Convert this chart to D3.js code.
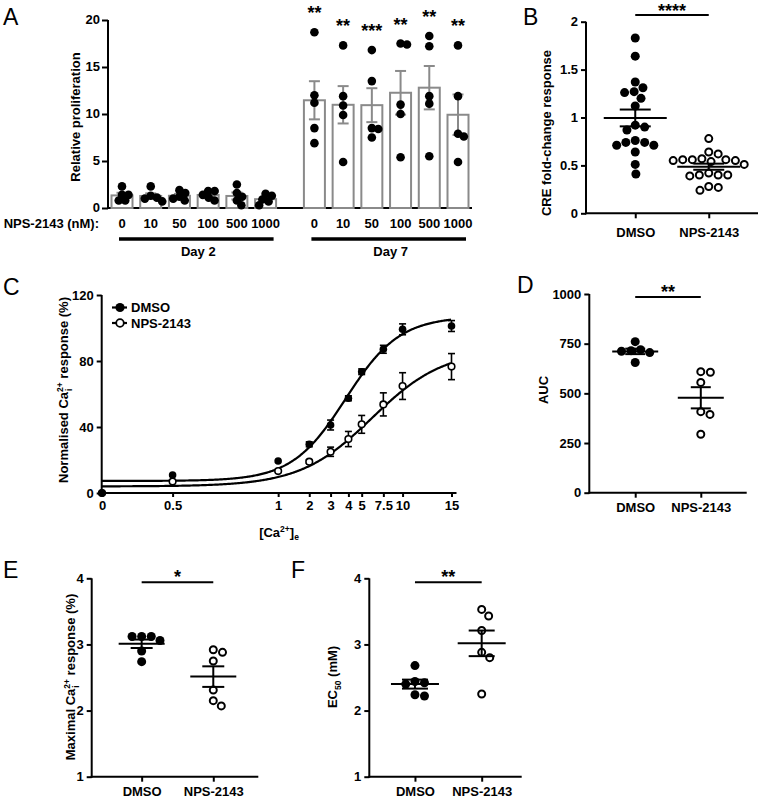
<!DOCTYPE html>
<html><head><meta charset="utf-8">
<script src="https://cdn.jsdelivr.net/npm/d3@7"></script>
<style>
body{margin:0;background:#fff;}
text{font-family:'Liberation Sans',Arial,Helvetica,sans-serif;}
</style></head><body><script>
// ================= DATA =================
// Panel A: relative proliferation, NPS-2143 concentrations
const concLabels = ["0","10","50","100","500","1000"];
const dayLabels = ["Day 2","Day 7"];
const day2Values = [
  [2.3,1.4,1.4,0.8,0.8],
  [2.3,1.3,1.1,1.0,0.7],
  [1.9,1.6,1.2,1.0,0.8],
  [1.8,1.8,1.4,1.1,0.8],
  [2.5,1.6,1.2,0.8,0.3],
  [1.5,1.3,0.9,0.7,0.3]
];
const day7Values = [
  [18.7,12.0,11.2,8.5,6.9],
  [17.3,11.9,10.9,9.9,4.9],
  [16.8,13.5,8.5,8.4,7.5],
  [17.4,17.5,11.0,10.0,5.4],
  [17.2,18.3,11.9,11.1,5.5],
  [17.3,11.9,7.9,7.6,4.9]
];
const day7Stars = ["**","**","***","**","**","**"];
const profTicks = [0,5,10,15,20];

// Panel B: CRE fold-change response
const groups = ["DMSO","NPS-2143"];
const creDmso = [1.83,1.64,1.31,1.26,1.20,1.27,1.37,1.12,0.92,0.87,0.90,0.76,0.74,0.71,0.71,0.74,0.64,0.51,0.41];
const creNps  = [0.78,0.64,0.62,0.57,0.56,0.55,0.54,0.55,0.56,0.56,0.51,0.40,0.40,0.39,0.40,0.42,0.28,0.24,0.27];
const creTicks = [0,0.5,1,1.5,2];
const creStars = "****";

// Panel C: normalised Ca2+i response vs [Ca2+]e
const caConc = [0,0.5,1,2,3,4,5,7.5,10,15];
const caDmso    = [0,10.9,19.4,29.5,41.2,57.4,73.5,87.1,99.2,101.2];
const caDmsoSem = [0,0,0,1.5,3.0,1.5,1.7,2.4,3.3,3.3];
const caNps     = [0,6.9,13.3,19.0,25.0,32.7,41.6,53.7,64.8,76.6];
const caNpsSem  = [0,0,0,1.0,2.8,4.6,5.4,7.0,8.1,7.9];
const caTicks = [0,40,80,120];
const caDmsoFit = {bottom:7.3, top:107, mid:3.85, slope:0.077};
const caNpsFit  = {bottom:4.0, top:87,  mid:6.2,  slope:0.103};

// Panel D: AUC
const aucDmso = [760,712,705,720,715,655];
const aucNps  = [609,606,555,408,394,294];
const aucTicks = [0,250,500,750,1000];

// Panel E: maximal Ca2+i response
const maxDmso = [3.12,3.12,3.12,3.06,2.90,2.74];
const maxNps  = [2.92,2.88,2.75,2.31,2.15,2.07];
// Panel F: EC50 (mM)
const ecDmso = [2.68,2.44,2.42,2.40,2.22,2.24];
const ecNps  = [3.53,3.43,3.21,2.88,2.80,2.25];
const unitTicks = [1,2,3,4];

// ================= HELPERS =================
const FF = "'Liberation Sans',Arial,Helvetica,sans-serif";
const FS = 13;
const svg = d3.select("body").append("svg").attr("width",762).attr("height",801).style("display","block");
const GREY = "#8a8a8a";
const mean = a => d3.mean(a);
const sem = a => d3.deviation(a)/Math.sqrt(a.length);

function styleAxis(g){
  g.select(".domain").remove();
  g.attr("font-family",FF).attr("font-size",FS).attr("font-weight","bold");
  g.selectAll(".tick line").attr("stroke","#000").attr("stroke-width",2);
  g.selectAll(".tick text").attr("fill","#000");
}
function line(g,x1,y1,x2,y2,w,c){
  return g.append("line").attr("x1",x1).attr("y1",y1).attr("x2",x2).attr("y2",y2)
    .attr("stroke",c||"#000").attr("stroke-width",w||2);
}
function btext(g,x,y,s,anchor){
  return g.append("text").attr("x",x).attr("y",y).attr("text-anchor",anchor||"middle")
    .attr("font-size",FS).attr("font-weight","bold").attr("font-family",FF).text(s);
}
function letter(x,y,s){
  svg.append("text").attr("x",x).attr("y",y).attr("font-size",23).attr("font-family",FF).text(s);
}
function rotLabel(x,y){
  return svg.append("text").attr("transform",`translate(${x},${y}) rotate(-90)`)
    .attr("text-anchor","middle").attr("dy","0.35em")
    .attr("font-size",FS).attr("font-weight","bold").attr("font-family",FF);
}
// stacked superscript "2+" and subscript char
function caLabel(t, before, sub, after){
  t.append("tspan").text(before);
  const sup = t.append("tspan").attr("font-size",8.5).attr("dy",-5).text("2+");
  const w = sup.node().getComputedTextLength();
  const sb = t.append("tspan").attr("font-size",8.5).attr("dx",-w+1).attr("dy",9.5).text(sub);
  const ws = sb.node().getComputedTextLength();
  t.append("tspan").attr("dx",w-1-ws).attr("dy",-4.5).text(after);
}
// beeswarm offsets
function swarm(values, y, d){
  const idx = values.map((v,i)=>i).sort((a,b)=>values[b]-values[a]);
  const placed=[], offs=new Array(values.length);
  for(const i of idx){
    const yy = y(values[i]);
    const cands=[0];
    for(const p of placed){
      const dy = yy-p.y;
      if(Math.abs(dy)<d){ const dx=Math.sqrt(d*d-dy*dy); cands.push(p.x+dx,p.x-dx); }
    }
    cands.sort((a,b)=>Math.abs(a)-Math.abs(b));
    const best = cands.find(c=>placed.every(p=>(c-p.x)**2+(yy-p.y)**2 >= d*d-1e-6));
    offs[i]=best; placed.push({x:best,y:yy});
  }
  return offs;
}
function dots(g, values, cx, y, r, filled, d){
  const offs = swarm(values, y, d);
  g.selectAll(null).data(values).enter().append("circle")
    .attr("cx",(v,i)=>cx+offs[i]).attr("cy",v=>y(v))
    .attr("r", filled ? r : r-1)
    .attr("fill", filled ? "#000" : "#fff")
    .attr("stroke","#000").attr("stroke-width", filled?0:2);
}

// ================= PANEL A =================
letter(3,25,"A");
{
  const g = svg.append("g");
  const y = d3.scaleLinear().domain([0,20]).range([208,20]);
  const groupGap = 6.7;
  const x = d3.scaleLinear().domain([0,5+groupGap]).range([122,458]);
  const pos = (day,i)=> i + day*groupGap;
  const ax = g.append("g").attr("transform","translate(108,0)")
    .call(d3.axisLeft(y).tickValues(profTicks).tickSize(6).tickPadding(2));
  styleAxis(ax);
  ax.selectAll(".tick text").attr("dy","0.28em");
  line(g,108,y(0)+1,108,y(20));
  line(g,107,y(0),x(pos(1,5))+14,y(0));
  rotLabel(75,117).text("Relative proliferation");

  const days=[day2Values,day7Values];
  days.forEach((dv,day)=>{
    dv.forEach((vals,i)=>{
      const cx = x(pos(day,i)), m=mean(vals), s=sem(vals);
      g.append("rect").attr("x",cx-10.5).attr("y",y(m)).attr("width",21).attr("height",y(0)-y(m))
        .attr("fill","#fff").attr("stroke",GREY).attr("stroke-width",2);
      line(g,cx,y(m-s),cx,y(m+s),2,GREY);
      line(g,cx-5.5,y(m+s),cx+5.5,y(m+s),2,GREY);
      line(g,cx-5.5,y(m-s),cx+5.5,y(m-s),2,GREY);
    });
  });
  days.forEach((dv,day)=>{
    dv.forEach((vals,i)=>{
      const cx = x(pos(day,i));
      dots(g, vals, cx, y, 4.3, true, 6.5);
    });
  });
  day7Stars.forEach((s,i)=>{
    g.append("text").attr("x",x(pos(1,i))).attr("y",y(d3.max(day7Values[i]))-13)
      .attr("text-anchor","middle").attr("font-size",18).attr("font-weight","bold").attr("font-family",FF).text(s);
  });
  // concentration labels
  btext(g,99,228,"NPS-2143 (nM):","end");
  [0,1].forEach(day=>{
    concLabels.forEach((c,i)=>{ btext(g,x(pos(day,i)),228,c); });
    const x1=x(pos(day,0))-3, x2=x(pos(day,5))+8;
    line(g,x1,239,x2,239,3.5);
    btext(g,(x1+x2)/2+2,256,dayLabels[day]);
  });
}

// ================= SCATTER PANELS =================
function scatterPanel(p){
  const g = svg.append("g");
  const [y0,y1] = p.y.range();
  const ya = g.append("g").attr("transform",`translate(${p.axisX},0)`)
    .call(d3.axisLeft(p.y).tickValues(p.ticks).tickSize(5).tickPadding(3).tickFormat(d=>d));
  styleAxis(ya);
  const xa = g.append("g").attr("transform",`translate(0,${y0})`)
    .call(d3.axisBottom(p.x).tickSize(5).tickPadding(p.xPad));
  styleAxis(xa);
  line(g,p.axisX,y0+1,p.axisX,y1);
  line(g,p.axisX-1,y0,p.x.range()[1],y0);
  p.sets.forEach((vals,gi)=>{
    const cx = p.x(groups[gi]);
    dots(g, vals, cx, p.y, p.r, gi===0, p.r*2+0.6);
  });
  p.sets.forEach((vals,gi)=>{
    const cx = p.x(groups[gi]), m=mean(vals), s=sem(vals);
    line(g,cx-p.meanW/2,p.y(m),cx+p.meanW/2,p.y(m),2);
    line(g,cx,p.y(m-s),cx,p.y(m+s),2);
    line(g,cx-p.whiskW/2,p.y(m+s),cx+p.whiskW/2,p.y(m+s),2);
    line(g,cx-p.whiskW/2,p.y(m-s),cx+p.whiskW/2,p.y(m-s),2);
  });
  const sy = p.y(p.sigVal);
  line(g,p.x(groups[0]),sy,p.x(groups[1]),sy,2);
  g.append("text").attr("x",(p.x(groups[0])+p.x(groups[1]))/2).attr("y",sy+p.starDy)
    .attr("text-anchor","middle").attr("font-size",18).attr("font-weight","bold").attr("font-family",FF).text(p.stars);
}

// Panel B
letter(523,25,"B");
scatterPanel({
  y:d3.scaleLinear().domain([0,2]).range([213.3,21.7]),
  x:d3.scalePoint().domain(groups).range([586,758]).padding(0.67),
  axisX:586, ticks:creTicks, xPad:9, sets:[creDmso,creNps], r:4.5,
  meanW:63, whiskW:31, sigVal:2.07, stars:creStars, starDy:2
});
rotLabel(546,133).text("CRE fold-change response");

// Panel D
letter(517,293,"D");
scatterPanel({
  y:d3.scaleLinear().domain([0,1000]).range([492.7,294]),
  x:d3.scalePoint().domain(groups).range([589.3,746.7]).padding(0.70),
  axisX:589.3, ticks:aucTicks, xPad:5, sets:[aucDmso,aucNps], r:4.5,
  meanW:46, whiskW:20, sigVal:985, stars:"**", starDy:1
});
rotLabel(543,390).text("AUC");

// Panel E
letter(3,578,"E");
scatterPanel({
  y:d3.scaleLinear().domain([1,4]).range([776.7,578.3]),
  x:d3.scalePoint().domain(groups).range([91.7,258.3]).padding(0.663).align(0.526),
  axisX:91.7, ticks:unitTicks, xPad:5, sets:[maxDmso,maxNps], r:4.5,
  meanW:46, whiskW:22, sigVal:3.94, stars:"*", starDy:1
});
caLabel(rotLabel(70,677),"Maximal Ca","i"," response (%)");

// Panel F
letter(291,578,"F");
scatterPanel({
  y:d3.scaleLinear().domain([1,4]).range([776.7,578.3]),
  x:d3.scalePoint().domain(groups).range([369.3,521.7]).padding(0.642).align(0.533),
  axisX:369.3, ticks:unitTicks, xPad:5, sets:[ecDmso,ecNps], r:4.5,
  meanW:48, whiskW:26, sigVal:3.94, stars:"**", starDy:1
});
{
  const t = rotLabel(332,677);
  t.append("tspan").text("EC");
  t.append("tspan").attr("font-size",8.5).attr("dy",4).text("50");
  t.append("tspan").attr("dy",-4).text(" (mM)");
}

// ================= PANEL C =================
letter(3,295,"C");
{
  const g = svg.append("g");
  const y = d3.scaleLinear().domain([0,120]).range([493,295]);
  const x0 = 102, len = 349.5;
  const frac = [0,0.202,0.504,0.593,0.654,0.705,0.743,0.805,0.860,1];
  const x = d3.scaleLinear().domain(caConc).range(frac.map(f=>x0+f*len));
  const ya = g.append("g").attr("transform",`translate(${x0-0.3},0)`)
    .call(d3.axisLeft(y).tickValues(caTicks).tickSize(5).tickPadding(3));
  styleAxis(ya);
  const xa = g.append("g").attr("transform",`translate(0,${y(0)})`)
    .call(d3.axisBottom(x).tickValues(caConc).tickSize(4).tickPadding(4).tickFormat(d=>d));
  styleAxis(xa);
  line(g,x0-0.3,y(0)+1,x0-0.3,y(120));
  line(g,x0-1.3,y(0),x(15)+5,y(0));
  rotLabel(63,390).call(t=>caLabel(t,"Normalised Ca","i"," response (%)"));

  const fitY = (fit,px)=>{
    const p50=x(fit.mid), w=fit.slope*(x.range()[x.range().length-1]-x.range()[0]);
    return fit.bottom+(fit.top-fit.bottom)/(1+Math.exp(-(px-p50)/w));
  };
  const pxs = d3.range(x(0), x(15)+0.5, 1);
  const path = d3.line();
  [caNpsFit,caDmsoFit].forEach(fit=>{
    g.append("path").attr("d",path(pxs.map(px=>[px,y(fitY(fit,px))])))
      .attr("fill","none").attr("stroke","#000").attr("stroke-width",2.2);
  });
  const series = [{v:caNps,e:caNpsSem,filled:false},{v:caDmso,e:caDmsoSem,filled:true}];
  series.forEach(s=>{
    s.v.forEach((v,i)=>{
      if(s.e[i]>0){
        const cx=x(caConc[i]);
        line(g,cx,y(v-s.e[i]),cx,y(v+s.e[i]),1.6);
        line(g,cx-3.5,y(v+s.e[i]),cx+3.5,y(v+s.e[i]),1.6);
        line(g,cx-3.5,y(v-s.e[i]),cx+3.5,y(v-s.e[i]),1.6);
      }
    });
  });
  series.forEach(s=>{
    g.selectAll(null).data(s.v).enter().append("circle")
      .attr("cx",(v,i)=>x(caConc[i])).attr("cy",v=>y(v))
      .attr("r",s.filled?3.8:3.3).attr("fill",s.filled?"#000":"#fff")
      .attr("stroke","#000").attr("stroke-width",s.filled?0:1.6);
  });
  // legend
  const leg = [{name:groups[0],filled:true},{name:groups[1],filled:false}];
  leg.forEach((l,i)=>{
    const ly = 307.5 + i*15.5;
    line(g,112,ly,127,ly,2.2);
    g.append("circle").attr("cx",120).attr("cy",ly).attr("r",l.filled?4.6:3.8)
      .attr("fill",l.filled?"#000":"#fff").attr("stroke","#000").attr("stroke-width",l.filled?0:1.8);
    btext(g,131,ly,l.name,"start").attr("dy","0.35em");
  });
  // x label [Ca2+]e
  const t = btext(g,279,537,"","middle");
  t.append("tspan").text("[Ca");
  t.append("tspan").attr("font-size",8.5).attr("dy",-5).text("2+");
  t.append("tspan").attr("dy",5).text("]");
  t.append("tspan").attr("font-size",8.5).attr("dy",3).text("e");
}
</script></body></html>
